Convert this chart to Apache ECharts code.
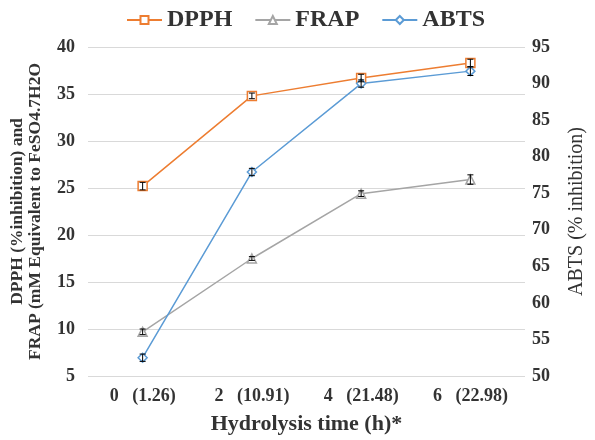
<!DOCTYPE html>
<html><head><meta charset="utf-8">
<script src="https://cdn.jsdelivr.net/npm/echarts@6/dist/echarts.min.js"></script>
<style>html,body{margin:0;padding:0;background:#fff}#c{width:595px;height:440px}</style>
</head><body><div id="c"></div>
<script>
const categories = ['0   (1.26)', '2   (10.91)', '4   (21.48)', '6   (22.98)'];
const dpph = [25.2, 34.8, 36.7, 38.3];
const dpphErr = [0.4, 0.3, 0.4, 0.4];
const frap = [9.7, 17.5, 24.4, 25.9];
const frapErr = [0.3, 0.2, 0.3, 0.5];
const abts = [52.5, 77.9, 90.0, 91.7];
const abtsErr = [0.5, 0.5, 0.5, 0.6];
const leftTicks = {min: 5, max: 40, interval: 5};
const rightTicks = {min: 50, max: 95, interval: 5};

const font = 'Liberation Serif, Times New Roman, serif';
const chart = echarts.init(document.getElementById('c'));

function errSeries(vals, errs, axisIdx) {
  return {
    type: 'custom', yAxisIndex: axisIdx, z: 5, silent: true,
    data: vals.map((v, i) => [i, v - errs[i], v + errs[i]]),
    renderItem: function (params, api) {
      const lo = api.coord([api.value(0), api.value(1)]);
      const hi = api.coord([api.value(0), api.value(2)]);
      const w = 3;
      const s = {stroke: '#000', lineWidth: 1};
      return {type: 'group', children: [
        {type: 'line', shape: {x1: lo[0], y1: lo[1], x2: hi[0], y2: hi[1]}, style: s},
        {type: 'line', shape: {x1: lo[0] - w, y1: lo[1], x2: lo[0] + w, y2: lo[1]}, style: s},
        {type: 'line', shape: {x1: hi[0] - w, y1: hi[1], x2: hi[0] + w, y2: hi[1]}, style: s}
      ]};
    }
  };
}

chart.setOption({
  animation: false,
  textStyle: {fontFamily: font},
  legend: {
    top: 3, left: 121, itemWidth: 35, itemHeight: 10, itemGap: 22,
    textStyle: {fontFamily: font, fontWeight: 'bold', fontSize: 24, color: '#333'},
    data: ['DPPH', 'FRAP', 'ABTS']
  },
  grid: {left: 81, right: 57, top: 47, bottom: 64},
  xAxis: {
    type: 'category', data: categories, boundaryGap: true,
    axisLine: {show: false}, axisTick: {show: false},
    axisLabel: {fontFamily: font, fontWeight: 'bold', fontSize: 18, color: '#333', margin: 11},
    name: 'Hydrolysis time (h)*', nameLocation: 'middle', nameGap: 37,
    nameTextStyle: {fontFamily: font, fontWeight: 'bold', fontSize: 22, color: '#333'}
  },
  yAxis: [{
    type: 'value', min: leftTicks.min, max: leftTicks.max, interval: leftTicks.interval,
    axisLine: {show: false}, axisTick: {show: false},
    splitLine: {lineStyle: {color: '#d9d9d9', width: 1}},
    axisLabel: {fontFamily: font, fontWeight: 'bold', fontSize: 18, color: '#333', margin: 13},
    name: 'DPPH (%inhibition) and\nFRAP (mM Equivalent to FeSO4.7H2O', nameLocation: 'middle', nameGap: 44, nameRotate: 90,
    nameTextStyle: {fontFamily: font, fontWeight: 'bold', fontSize: 17.5, color: '#333', lineHeight: 18}
  }, {
    type: 'value', min: rightTicks.min, max: rightTicks.max, interval: rightTicks.interval,
    axisLine: {show: false}, axisTick: {show: false}, splitLine: {show: false},
    axisLabel: {fontFamily: font, fontWeight: 'bold', fontSize: 18, color: '#333', margin: 7},
    name: 'ABTS (% inhibition)', nameLocation: 'middle', nameGap: 42, nameRotate: 90,
    nameTextStyle: {fontFamily: font, fontSize: 20, color: '#333'}
  }],
  series: [
    {name: 'DPPH', type: 'line', data: dpph, yAxisIndex: 0, symbol: 'rect', symbolSize: 9,
      lineStyle: {color: '#ED7D31', width: 1.5},
      itemStyle: {color: '#fff', borderColor: '#ED7D31', borderWidth: 1.5}, z: 3},
    {name: 'FRAP', type: 'line', data: frap, yAxisIndex: 0, symbol: 'triangle', symbolSize: 9,
      lineStyle: {color: '#A5A5A5', width: 1.5},
      itemStyle: {color: '#fff', borderColor: '#A5A5A5', borderWidth: 1.5}, z: 3},
    {name: 'ABTS', type: 'line', data: abts, yAxisIndex: 1, symbol: 'diamond', symbolSize: 9,
      lineStyle: {color: '#5B9BD5', width: 1.5},
      itemStyle: {color: '#fff', borderColor: '#5B9BD5', borderWidth: 1.5}, z: 3},
    errSeries(dpph, dpphErr, 0),
    errSeries(frap, frapErr, 0),
    errSeries(abts, abtsErr, 1)
  ]
});
</script></body></html>
